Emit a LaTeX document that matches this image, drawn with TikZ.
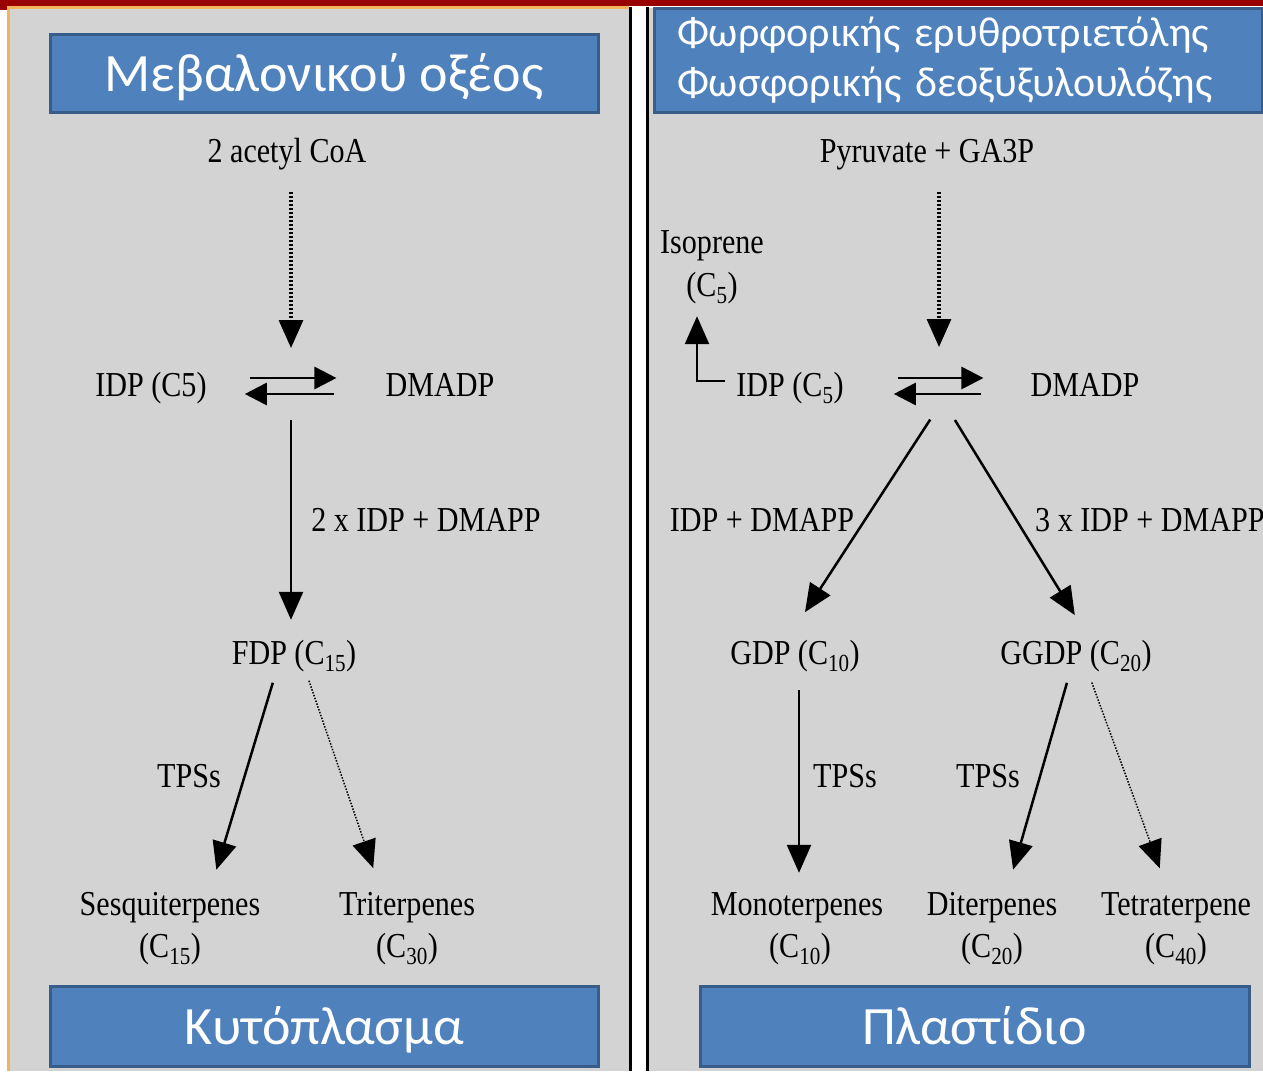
\documentclass[tikz,border=0pt]{standalone}
\usepackage{fontspec}
\setmainfont{Liberation Serif}
\newfontfamily\boxfont{Carlito}
\newfontfamily\pathfont[FakeStretch=0.86]{Liberation Serif}
\usetikzlibrary{arrows.meta,positioning}
\definecolor{panelC}{HTML}{D3D3D3}
\definecolor{titleC}{HTML}{4F81BD}
\definecolor{titleD}{HTML}{385D8A}
\definecolor{bandC}{HTML}{990000}
\definecolor{frameC}{HTML}{F2B35A}
\newcommand{\carb}[1]{(C\textsubscript{#1})}
\tikzset{
  titlebox/.style={draw=titleD, fill=titleC, line width=3pt, text=white, inner sep=0pt,
                   font=\boxfont\fontsize{54}{60}\selectfont},
  oneline/.style={titlebox, text height=49pt, text depth=12pt},
  chem/.style={font=\pathfont\fontsize{35}{40}\selectfont, inner sep=0pt,
               text height=24pt, text depth=8pt, anchor=base},
  react/.style={-{Triangle[length=28pt,width=24pt]}, line width=2.5pt},
  slow/.style={react, line width=3.2pt, dash pattern=on 2pt off 2pt},
  dotline/.style={-{Triangle[length=28pt,width=24pt]}, line width=1.5pt, dash pattern=on 1.5pt off 1.5pt},
  eqarr/.style={-{Triangle[length=22pt,width=22pt]}, line width=2.8pt},
}

\begin{document}
\begin{tikzpicture}[x=1pt,y=-1pt]
\useasboundingbox (0,0) rectangle (1263,1071);
\fill[white] (0,0) rectangle (1263,1071);
\fill[panelC] (10,8) rectangle (629,1071);
\fill[panelC] (649,8) rectangle (1263,1071);
\fill[bandC] (0,0) rectangle (1263,6);
\fill[bandC] (0,0) rectangle (7,10);
\draw[frameC, line width=2.5pt] (8.5,1071) -- (8.5,7.5) -- (629,7.5);
\draw[line width=3pt] (630,7) -- (630,1071);
\fill[white] (631.5,7) rectangle (645.5,1071);
\draw[line width=3pt] (647,7) -- (647,1071);

\node[oneline, minimum width=548pt, minimum height=78pt] (mevT) at (324,73) {Μεβαλονικού οξέος};
\node[titlebox, minimum width=608pt, minimum height=104pt, text width=562pt, align=left,
      font=\boxfont\fontsize{42}{50}\selectfont] (mepT) at (958,60)
     {Φωρφορικής ερυθροτριετόλης\\Φωσφορικής δεοξυξυλουλόζης};
\node[oneline, minimum width=548pt, minimum height=80pt] (cytT) at (324,1026) {Κυτόπλασμα};
\node[oneline, minimum width=549pt, minimum height=80pt] (plaT) at (974.5,1026) {Πλαστίδιο};

\node[chem] (acetyl) at (287,162) {2 acetyl CoA};
\node[chem] (idpL) at (151,396) {IDP (C5)};
\node[chem] (dmadpL) at (440,396) {DMADP};
\coordinate (eqL) at (291,386);
\node[chem] (stepL) at (426,531) {2 x IDP + DMAPP};
\node[chem] (fdp) at (294,664) {FDP \carb{15}};
\node[chem] (tpsL) at (189,787) {TPSs};
\node[chem] (sesq) at (170,915) {Sesquiterpenes};
\node[chem] (sesqC) at (170,957) {\carb{15}};
\node[chem] (tri) at (407,915) {Triterpenes};
\node[chem] (triC) at (407,957) {\carb{30}};

\node[chem] (pyr) at (927,162) {Pyruvate + GA3P};
\node[chem] (iso) at (712,253) {Isoprene};
\node[chem] (isoC) at (712,296) {\carb{5}};
\node[chem] (idpR) at (790,396) {IDP \carb{5}};
\node[chem] (dmadpR) at (1085,396) {DMADP};
\coordinate (eqR) at (939,386);
\node[chem] (stepA) at (762,531) {IDP + DMAPP};
\node[chem, anchor=base west] (stepB) at (1035,531) {3 x IDP + DMAPP};
\node[chem] (gdp) at (795,664) {GDP \carb{10}};
\node[chem] (ggdp) at (1076,664) {GGDP \carb{20}};
\node[chem] (tpsA) at (845,787) {TPSs};
\node[chem] (tpsB) at (988,787) {TPSs};
\node[chem] (mono) at (797,915) {Monoterpenes};
\node[chem] (monoC) at (800,957) {\carb{10}};
\node[chem] (di) at (992,915) {Diterpenes};
\node[chem] (diC) at (992,957) {\carb{20}};
\node[chem] (tetra) at (1176,915) {Tetraterpene};
\node[chem] (tetraC) at (1176,957) {\carb{40}};

\draw[slow, shorten <=22pt, shorten >=38pt] (acetyl.south -| eqL) -- (eqL);
\draw[eqarr, shorten <=43pt, shorten >=49pt] ([yshift=10pt]idpL.east) -- ([yshift=10pt]dmadpL.west);
\draw[eqarr, shorten <=51pt, shorten >=38pt] ([yshift=-6pt]dmadpL.west) -- ([yshift=-6pt]idpL.east);
\draw[react, shorten <=34pt, shorten >=20pt] (eqL) -- (eqL |- fdp.north);
\draw[react, shorten <=11pt, shorten >=22pt] ([xshift=-18pt]fdp.south) -- ([xshift=40pt]sesq.north);
\draw[dotline, shorten <=9pt, shorten >=24pt] ([xshift=12pt]fdp.south) -- ([xshift=-26pt]tri.north);

\draw[slow, shorten <=22pt, shorten >=39pt] (pyr.south -| eqR) -- (eqR);
\draw[react, shorten <=11pt, shorten >=12pt] ([yshift=7pt]idpR.west) -| ([xshift=-15pt]isoC.south);
\draw[eqarr, shorten <=54pt, shorten >=47pt] ([yshift=10pt]idpR.east) -- ([yshift=10pt]dmadpR.west);
\draw[eqarr, shorten <=49pt, shorten >=50pt] ([yshift=-6pt]dmadpR.west) -- ([yshift=-6pt]idpR.east);
\draw[react, shorten <=40pt, shorten >=33pt] ([xshift=13pt]eqR) -- ([xshift=-8pt]gdp.north);
\draw[react, shorten <=40pt, shorten >=29pt] ([xshift=-5pt]eqR) -- ([xshift=14pt]ggdp.north);
\draw[react, shorten <=18pt, shorten >=18pt] ([xshift=4pt]gdp.south) -- ([xshift=4pt]gdp.south |- mono.north);
\draw[react, shorten <=11pt, shorten >=22pt] ([xshift=-6pt]ggdp.south) -- ([xshift=15pt]di.north);
\draw[dotline, shorten <=11pt, shorten >=24pt] ([xshift=12pt]ggdp.south) -- ([xshift=-8pt]tetra.north);
\end{tikzpicture}
\end{document}
